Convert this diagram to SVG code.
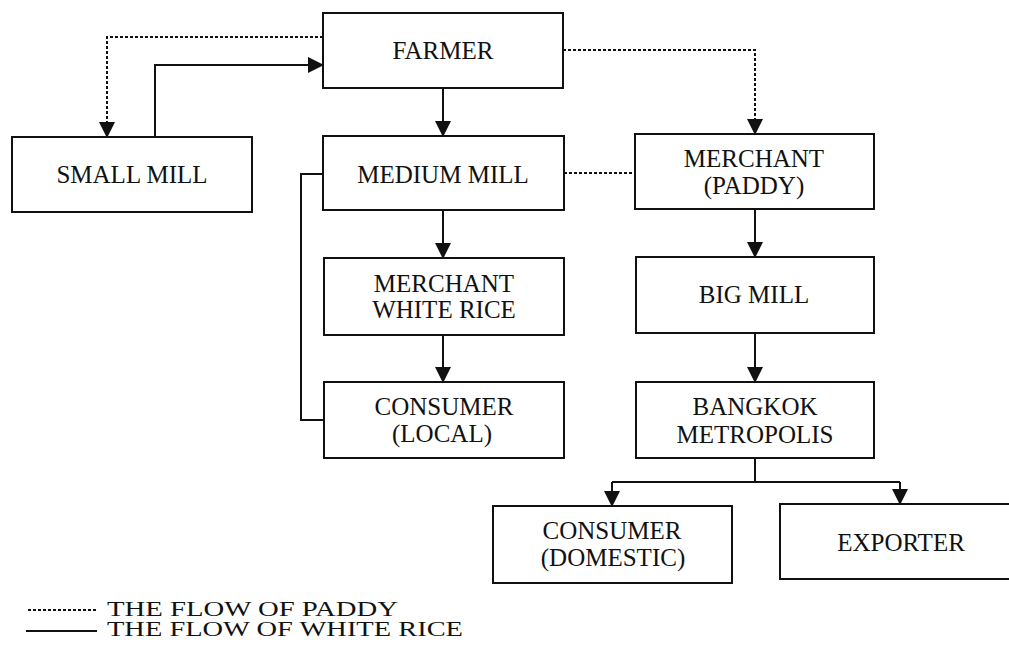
<svg xmlns="http://www.w3.org/2000/svg" width="1009" height="661" viewBox="0 0 1009 661">
<style>
.box{fill:#fff;stroke:#111;stroke-width:2}
.t{font-family:"Liberation Serif","Times New Roman",serif;font-size:25px;fill:#111;text-anchor:middle}
.lg{font-family:"Liberation Serif","Times New Roman",serif;font-size:20px;fill:#111}
.s{fill:none;stroke:#111;stroke-width:2}
.d{fill:none;stroke:#111;stroke-width:2;stroke-dasharray:3 2}
</style>
<defs>
<marker id="ah" markerUnits="userSpaceOnUse" markerWidth="16" markerHeight="16" viewBox="0 0 16 16" refX="15" refY="8" orient="auto">
<path d="M0,0 L16,8 L0,16 Z" fill="#111"/>
</marker>
</defs>
<rect width="1009" height="661" fill="#fff"/>
<g id="connectors">
<path class="d" d="M323,37 H107 V137" marker-end="url(#ah)"/>
<path class="s" d="M155,137 V65 H323" marker-end="url(#ah)"/>
<path class="d" d="M563,50 H755 V134" marker-end="url(#ah)"/>
<path class="s" d="M443,88 V136" marker-end="url(#ah)"/>
<path class="d" d="M564,173 H635"/>
<path class="s" d="M323,174 H301 V420 H324"/>
<path class="s" d="M443,210 V258" marker-end="url(#ah)"/>
<path class="s" d="M443,335 V382" marker-end="url(#ah)"/>
<path class="s" d="M755,209 V257" marker-end="url(#ah)"/>
<path class="s" d="M755,333 V382" marker-end="url(#ah)"/>
<path class="s" d="M755,458 V482"/>
<path class="s" d="M612,482 H900"/>
<path class="s" d="M612,482 V506" marker-end="url(#ah)"/>
<path class="s" d="M900,482 V504" marker-end="url(#ah)"/>
</g>
<g id="farmer"><rect class="box" x="323" y="13" width="240" height="75"/><text class="t" x="443" y="59">FARMER</text></g>
<g id="small-mill"><rect class="box" x="12" y="137" width="240" height="75"/><text class="t" x="132" y="183">SMALL MILL</text></g>
<g id="medium-mill"><rect class="box" x="323" y="136" width="241" height="74"/><text class="t" x="443" y="183">MEDIUM MILL</text></g>
<g id="merchant-paddy"><rect class="box" x="635" y="134" width="239" height="75"/><text class="t" x="754" y="167">MERCHANT</text><text class="t" x="754" y="194">(PADDY)</text></g>
<g id="merchant-white-rice"><rect class="box" x="324" y="258" width="240" height="77"/><text class="t" x="444" y="292">MERCHANT</text><text class="t" x="444" y="318">WHITE RICE</text></g>
<g id="consumer-local"><rect class="box" x="324" y="382" width="240" height="76"/><text class="t" x="444" y="415">CONSUMER</text><text class="t" x="442" y="442">(LOCAL)</text></g>
<g id="big-mill"><rect class="box" x="636" y="257" width="238" height="76"/><text class="t" x="754" y="303">BIG MILL</text></g>
<g id="bangkok"><rect class="box" x="636" y="382" width="238" height="76"/><text class="t" x="755" y="415">BANGKOK</text><text class="t" x="755" y="443">METROPOLIS</text></g>
<g id="consumer-domestic"><rect class="box" x="493" y="506" width="239" height="77"/><text class="t" x="612" y="539">CONSUMER</text><text class="t" x="613" y="566">(DOMESTIC)</text></g>
<g id="exporter"><rect class="box" x="780" y="504" width="245" height="75"/><text class="t" x="901" y="551">EXPORTER</text></g>
<g id="legend">
<line class="d" x1="28" y1="610" x2="97" y2="610"/>
<text class="lg" x="107" y="616" textLength="291" lengthAdjust="spacingAndGlyphs">THE FLOW OF PADDY</text>
<line class="s" x1="26" y1="631" x2="97" y2="631"/>
<text class="lg" x="107" y="636" textLength="356" lengthAdjust="spacingAndGlyphs">THE FLOW OF WHITE RICE</text>
</g>
</svg>
